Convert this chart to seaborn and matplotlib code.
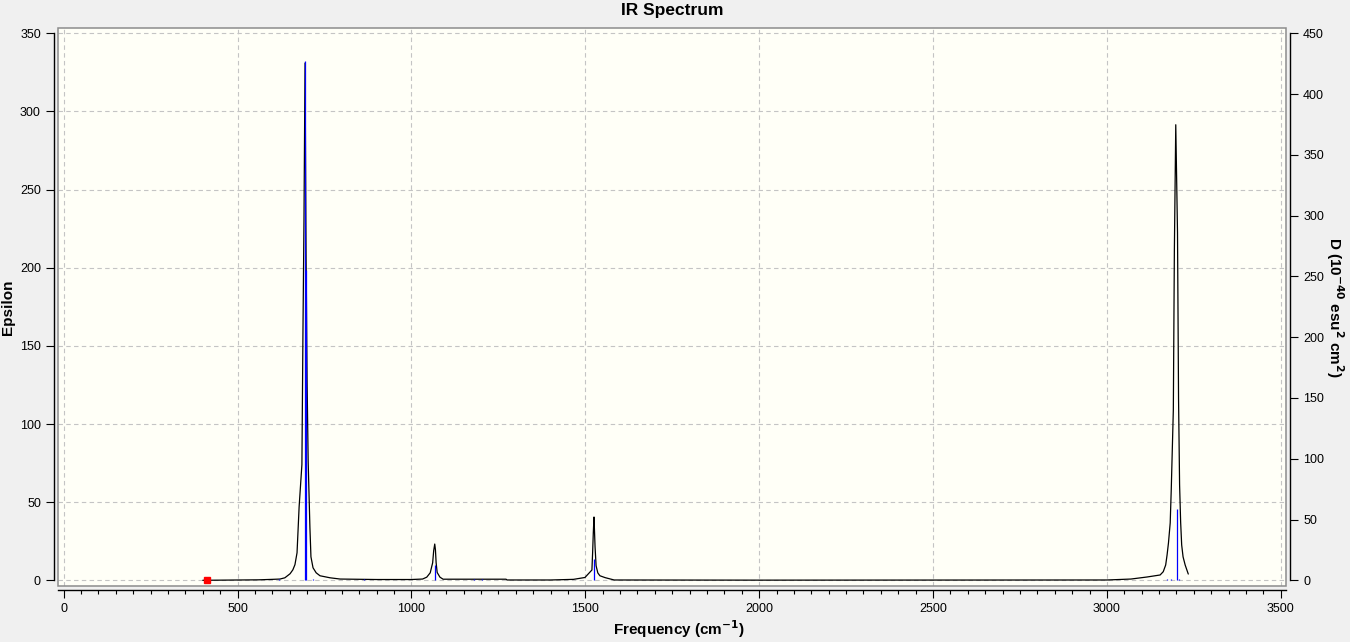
import matplotlib
matplotlib.use("Agg")
import matplotlib.pyplot as plt
import seaborn as sns
import pandas as pd
from matplotlib.patches import Rectangle
from matplotlib.ticker import MultipleLocator

# Broadened spectrum (cm-1, epsilon)
freq_curve = [400, 560, 600, 622, 636, 651, 659, 665, 671, 677, 685, 688, 691, 694,
              697, 700, 703, 708, 711, 717, 726, 737, 766, 795, 900, 1000,
              1032, 1044, 1054, 1061, 1064, 1067, 1069, 1071, 1074, 1082, 1091,
              1272, 1275, 1400, 1466, 1499, 1519, 1521, 1523, 1525, 1528, 1531,
              1536, 1542, 1557, 1583, 2000, 3000, 3069, 3115, 3153, 3162, 3169,
              3173, 3177, 3182, 3185, 3191, 3194, 3198, 3203, 3206, 3209, 3212,
              3215, 3219, 3225, 3234]
eps_curve = [0, 0.3, 0.6, 0.8, 1.6, 4.2, 6.7, 10, 17.6, 47, 74, 158, 231, 331,
             208, 126, 76, 34, 15, 8, 4.8, 2.9, 1.6, 0.8, 0.5, 0.5,
             0.8, 2.0, 4.8, 11.2, 19, 23.2, 19.5, 11.2, 5, 2, 0.7,
             0.7, 0.2, 0.2, 0.6, 1.8, 6.6, 17.5, 30.5, 40.5, 21.5, 9.3,
             4.7, 2.9, 1.7, 0.2, 0.1, 0.2, 0.8, 2.1, 3.4, 5.5, 9.8,
             16.2, 23.9, 36.7, 57.9, 109, 211.5, 291.5, 222.5, 116, 61, 37.3,
             22.6, 15, 9.8, 4]

# Stick spectrum (cm-1, dipole strength D)
stick_freq = [620, 694, 696, 718, 864, 1067, 1180, 1203, 1526, 3174, 3184, 3201, 3208]
stick_d = [1, 427, 255, 1, 1, 12.6, 1, 1, 17.5, 1, 1, 58.7, 1]

# Imaginary-mode marker
imag_freq = [413]
imag_eps = [0]

eps_ticks = list(range(0, 351, 50))
d_ticks = list(range(0, 451, 50))
freq_ticks = list(range(0, 3501, 500))

sns.set_theme(style="white")
plt.rcParams['font.family'] = ['Liberation Sans', 'DejaVu Sans']
plt.rcParams['text.color'] = 'black'

W, H = 1350, 642
fig = plt.figure(figsize=(W / 100, H / 100), dpi=100, facecolor='#F0F0F0')
box_l, box_r, box_t, box_b = 58, 1286, 27.7, 586
ax = fig.add_axes([box_l / W, 1 - box_b / H, (box_r - box_l) / W, (box_b - box_t) / H])
ax.set_facecolor('#FFFFF7')

df = pd.DataFrame({'freq': freq_curve, 'eps': eps_curve})
sns.lineplot(data=df, x='freq', y='eps', sort=False, estimator=None,
             color='black', linewidth=0.9, ax=ax)
ax.plot(imag_freq, imag_eps, marker='s', color='#FF0000', markersize=5,
        linestyle='none', zorder=5, clip_on=False)

ax.set_xlim(-16.4, 3515)
ax.set_ylim(-3.65, 353.6)
ax.set_xticks(freq_ticks)
ax.xaxis.set_minor_locator(MultipleLocator(50))
ax.set_yticks(eps_ticks)
ax.grid(True, which='major', color='#C4C4C4', linestyle=(0, (4, 3)), linewidth=0.8)
ax.set_xlabel('')
ax.set_ylabel('')

ax2 = ax.twinx()
ax2.vlines(stick_freq, 0, stick_d, color='#0000FF', linewidth=0.9)
ax2.set_ylim(-4.69, 454.6)
ax2.set_yticks(d_ticks)
ax2.grid(False)

for a in (ax, ax2):
    for s in a.spines.values():
        s.set_visible(False)

ax.spines['left'].set_visible(True)
ax.spines['left'].set_position(('outward', 3))
ax.spines['left'].set_bounds(0, 350)
ax.spines['bottom'].set_visible(True)
ax.spines['bottom'].set_position(('outward', 3))
ax2.spines['right'].set_visible(True)
ax2.spines['right'].set_position(('outward', 3))
ax2.spines['right'].set_bounds(0, 450)
for s in (ax.spines['left'], ax.spines['bottom'], ax2.spines['right']):
    s.set_color('black')
    s.set_linewidth(1.0)

ax.tick_params(axis='x', which='major', bottom=True, length=5.8, width=0.8,
               color='black', labelsize=9, pad=3.5, labelcolor='black')
ax.tick_params(axis='x', which='minor', bottom=True, length=2.9, width=0.8, color='black')
ax.tick_params(axis='y', left=True, length=5.8, width=0.8, color='black',
               labelsize=9, pad=3.5, labelcolor='black')
ax2.tick_params(axis='y', right=True, length=5.8, width=0.8, color='black',
                labelsize=9, pad=3.5, labelcolor='black')

# gray plot frame
ax.add_patch(Rectangle((0, 0), 1, 1, transform=ax.transAxes, fill=False,
                       edgecolor='#8C8C8C', linewidth=1.1, zorder=10, clip_on=False))

fig.text(672 / W, 1 - 10 / H, 'IR Spectrum', ha='center', va='center',
         fontsize=12.5, fontweight='bold', color='black')
fig.text(679 / W, 1 - 629 / H, 'Frequency (cm$^{\\mathbf{-1}}$)', ha='center', va='center',
         fontsize=11, fontweight='bold', color='black')
fig.text(8 / W, 1 - 307 / H, 'Epsilon', rotation=90, ha='center', va='center',
         fontsize=11, fontweight='bold', color='black')
fig.text(1335 / W, 1 - 307 / H, 'D (10$^{\\mathbf{-40}}$ esu$^{\\mathbf{2}}$ cm$^{\\mathbf{2}}$)',
         rotation=270, ha='center', va='center', fontsize=11, fontweight='bold', color='black')

fig.savefig('out.png', dpi=100, facecolor=fig.get_facecolor())
